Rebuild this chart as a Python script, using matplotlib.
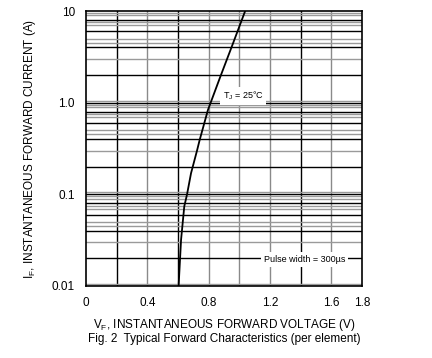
import matplotlib.pyplot as plt
from matplotlib.ticker import FixedLocator, NullFormatter, NullLocator

plt.rcParams['font.family'] = ['Liberation Sans', 'DejaVu Sans']

# forward curve
vf = [0.604, 0.612, 0.620, 0.641, 0.659, 0.685, 0.724, 0.741, 0.795, 0.875, 0.958, 1.038]
i_f = [0.01, 0.018, 0.032, 0.074, 0.1, 0.17, 0.30, 0.39, 0.83, 1.9, 4.4, 10]

x_ticks = [0, 0.4, 0.8, 1.2, 1.6, 1.8]
x_labels = ["0", "0.4", "0.8", "1.2", "1.6", "1.8"]
y_ticks = [0.01, 0.1, 1.0, 10]
y_labels = ["0.01", "0.1", "1.0", "10"]

# grid lines in this datasheet graph (per decade multipliers)
v_grid = [0.2, 0.4, 0.6, 0.8, 1.0, 1.2, 1.4, 1.6]
v_dark = [0.2, 0.6, 1.4]
h_mult = [1.05, 2, 3, 4, 4.5, 5, 6, 7, 7.5, 8, 9, 9.5]
h_dark = [2, 4, 6, 8]

fig = plt.figure(figsize=(4.32, 3.58), dpi=100)
ax = fig.add_axes([86 / 432, 1 - 286 / 358, 276 / 432, 275 / 358])
ax.set_xlim(0, 1.8)
ax.set_yscale("log")
ax.set_ylim(0.01, 10)

for v in v_grid:
    ax.axvline(v, color="black" if v in v_dark else "#8a8a8a", lw=1.0, zorder=1)
for dec in [0.01, 0.1, 1.0]:
    ax.axhline(dec, color="black", lw=1.0, zorder=1)
    for m in h_mult:
        ax.axhline(dec * m, color="black" if m in h_dark else "#9a9a9a", lw=1.0, zorder=1)

ax.plot(vf, i_f, color="black", lw=1.3, zorder=3, solid_joinstyle="round")

ax.text(1.025, 1.19, r"T$_\mathregular{J}$ = 25°C", fontsize=6.5, ha="center", va="center",
        bbox=dict(facecolor="white", edgecolor="none", pad=2), zorder=4)
ax.text(1.428, 0.0195, "Pulse width = 300µs", fontsize=6.5, ha="center", va="center",
        bbox=dict(facecolor="white", edgecolor="none", pad=2), zorder=4)

ax.xaxis.set_major_locator(FixedLocator(x_ticks))
ax.set_xticklabels(x_labels)
ax.yaxis.set_major_locator(FixedLocator(y_ticks))
ax.yaxis.set_minor_locator(NullLocator())
ax.yaxis.set_minor_formatter(NullFormatter())
ax.set_yticklabels(y_labels)
ax.tick_params(length=0, labelsize=8.5, pad=8)
for s in ax.spines.values():
    s.set_linewidth(1.2)

ax.set_xlabel(r"V$_\mathregular{F}$, INSTANTANEOUS FORWARD VOLTAGE (V)", fontsize=8.5, labelpad=6)
ax.set_ylabel(r"I$_\mathregular{F}$, INSTANTANEOUS FORWARD CURRENT (A)", fontsize=8.5, labelpad=10)
fig.text(224 / 432, 1 - 339 / 358, "Fig. 2  Typical Forward Characteristics (per element)",
         fontsize=8.5, ha="center", va="center")

plt.savefig("out.png", dpi=100)
plt.close()
